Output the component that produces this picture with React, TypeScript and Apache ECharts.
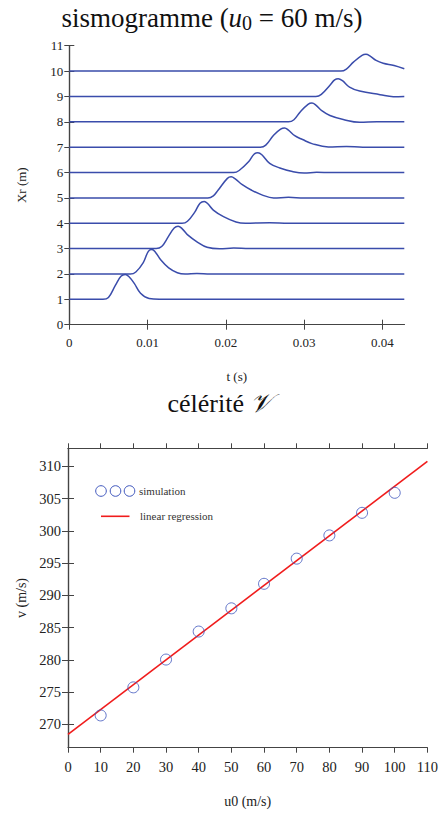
import React, { useEffect, useRef } from "react";
import * as echarts from "echarts";

// ---------- data: seismogram traces (time s, position m) ----------
const trace1 = [[0, 1], [0.0043, 1.0], [0.005, 1.07], [0.0059, 1.56], [0.0066, 1.91], [0.00715, 1.98], [0.0076, 1.9], [0.0083, 1.63], [0.0091, 1.24], [0.0102, 1.03], [0.0115, 1.0], [0.0428, 1.0]];
const trace2 = [[0, 2], [0.0078, 2.0], [0.0085, 2.08], [0.00945, 2.45], [0.0101, 2.89], [0.01055, 2.96], [0.0110, 2.86], [0.0117, 2.55], [0.0127, 2.24], [0.0138, 2.05], [0.0148, 2.0], [0.0163, 2.02], [0.018, 2.0], [0.0428, 2.0]];
const trace3 = [[0, 3], [0.0111, 3.0], [0.0118, 3.08], [0.01265, 3.47], [0.0134, 3.81], [0.0139, 3.88], [0.0144, 3.79], [0.0152, 3.52], [0.0164, 3.25], [0.0176, 3.05], [0.0192, 2.99], [0.021, 3.02], [0.023, 3.0], [0.0428, 3.0]];
const trace4 = [[0, 4], [0.0144, 4.0], [0.0151, 4.08], [0.01605, 4.45], [0.0167, 4.79], [0.01724, 4.86], [0.0177, 4.77], [0.0184, 4.52], [0.0197, 4.26], [0.0213, 4.05], [0.0225, 4.0], [0.0256, 4.02], [0.028, 4.0], [0.0428, 4.0]];
const trace5 = [[0, 5], [0.0177, 5.0], [0.0184, 5.08], [0.019, 5.3], [0.0202, 5.77], [0.02068, 5.83], [0.0212, 5.75], [0.0221, 5.52], [0.0233, 5.3], [0.0246, 5.12], [0.0261, 5.0], [0.028, 5.02], [0.03, 5.0], [0.0428, 5.0]];
const trace6 = [[0, 6], [0.021, 6.0], [0.0217, 6.08], [0.0229, 6.42], [0.0236, 6.72], [0.0241, 6.78], [0.0246, 6.7], [0.0256, 6.36], [0.0269, 6.18], [0.0285, 6.04], [0.03, 5.98], [0.0316, 6.01], [0.0335, 6.0], [0.0428, 6.0]];
const trace7 = [[0, 7], [0.0244, 7.0], [0.0251, 7.08], [0.0261, 7.47], [0.027, 7.71], [0.0275, 7.76], [0.028, 7.67], [0.0288, 7.45], [0.0298, 7.3], [0.031, 7.14], [0.0331, 7.01], [0.0354, 7.03], [0.0375, 7.0], [0.0428, 7.0]];
const trace8 = [[0, 8], [0.028, 8.0], [0.0287, 8.08], [0.0295, 8.39], [0.0305, 8.69], [0.031, 8.74], [0.0315, 8.66], [0.0323, 8.43], [0.0333, 8.25], [0.035, 8.09], [0.0371, 7.98], [0.0393, 8.0], [0.0428, 8.0]];
const trace9 = [[0, 9], [0.0315, 9.0], [0.0322, 9.08], [0.0333, 9.44], [0.0339, 9.65], [0.03436, 9.7], [0.0349, 9.62], [0.0358, 9.37], [0.0371, 9.21], [0.0397, 9.07], [0.0414, 8.99], [0.0428, 9.0]];
const trace10 = [[0, 10], [0.0347, 10.0], [0.0354, 10.08], [0.0363, 10.35], [0.0374, 10.62], [0.0379, 10.66], [0.0384, 10.6], [0.0392, 10.42], [0.0401, 10.31], [0.0415, 10.22], [0.0428, 10.09]];
const traces = [trace1, trace2, trace3, trace4, trace5, trace6, trace7, trace8, trace9, trace10];

const timeTicks = [0, 0.01, 0.02, 0.03, 0.04];

// ---------- data: celerity ----------
const u0Values = [10, 20, 30, 40, 50, 60, 70, 80, 90, 100];
const celerity = [271.4, 275.75, 280.06, 284.4, 288.0, 291.8, 295.7, 299.3, 302.8, 305.9];
const regressionLine = [[0, 268.46], [110, 310.77]];
const celerityTicks = [270, 275, 280, 285, 290, 295, 300, 305, 310];

const FONT = "'Liberation Serif', 'Times New Roman', serif";
const AXIS_COLOR = "#444";
const LABEL_COLOR = "#222";
const TRACE_COLOR = "#3a4cab";
const CIRCLE_COLOR = "#3d55bd";
const RED = "#f01c1c";

export default function App() {
  const ref = useRef<HTMLDivElement>(null);
  useEffect(() => {
    if (!ref.current) return;
    const chart = echarts.init(ref.current, undefined, { renderer: "svg" });

    const axisLine = { show: true, lineStyle: { color: AXIS_COLOR, width: 1.2 } };
    const tick = (len: number, extra: any = {}) => ({ show: true, inside: false, length: len, lineStyle: { color: AXIS_COLOR, width: 1 }, ...extra });

    const option: any = {
      animation: false,
      backgroundColor: "#fff",
      textStyle: { fontFamily: FONT },
      grid: [
        { left: 69.3, top: 45.7, width: 335, height: 279, containLabel: false },
        { left: 68, top: 448.3, width: 360, height: 299.4, containLabel: false },
      ],
      xAxis: [
        {
          gridIndex: 0, type: "value", position: "bottom", min: 0, max: 0.0428,
          axisLine, axisTick: tick(5, { customValues: timeTicks }), splitLine: { show: false },
          axisLabel: { customValues: timeTicks, color: LABEL_COLOR, fontSize: 13, fontFamily: FONT, margin: 11, formatter: (v: number) => String(+v.toFixed(3)) },
          name: "t (s)", nameLocation: "middle", nameGap: 45,
          nameTextStyle: { color: LABEL_COLOR, fontSize: 13, fontFamily: FONT },
        },
        {
          gridIndex: 0, type: "value", position: "top", min: 0, max: 0.0428,
          axisLine, axisTick: tick(5, { customValues: timeTicks }), axisLabel: { show: false }, splitLine: { show: false },
        },
        {
          gridIndex: 1, type: "value", position: "bottom", min: 0, max: 110, interval: 10,
          axisLine, axisTick: tick(5), splitLine: { show: false },
          axisLabel: { color: LABEL_COLOR, fontSize: 14.5, fontFamily: FONT, margin: 12, showMaxLabel: true },
          name: "u0 (m/s)", nameLocation: "middle", nameGap: 47,
          nameTextStyle: { color: LABEL_COLOR, fontSize: 14, fontFamily: FONT },
        },
        {
          gridIndex: 1, type: "value", position: "top", min: 0, max: 110, interval: 10,
          axisLine, axisTick: tick(5), axisLabel: { show: false }, splitLine: { show: false },
        },
      ],
      yAxis: [
        {
          gridIndex: 0, type: "value", position: "left", min: 0, max: 11, interval: 1,
          axisLine, axisTick: tick(5), splitLine: { show: false },
          axisLabel: { color: LABEL_COLOR, fontSize: 13, fontFamily: FONT, margin: 6 },
          name: "Xr (m)", nameLocation: "middle", nameGap: 41,
          nameTextStyle: { color: LABEL_COLOR, fontSize: 13, fontFamily: FONT },
        },
        {
          gridIndex: 0, type: "value", position: "right", min: 0, max: 11, interval: 1,
          axisLine, axisTick: tick(5), axisLabel: { show: false }, splitLine: { show: false },
        },
        {
          gridIndex: 1, type: "value", position: "left", min: 266.4, max: 312.8,
          axisLine, axisTick: tick(6, { customValues: celerityTicks }), splitLine: { show: false },
          axisLabel: { customValues: celerityTicks, color: LABEL_COLOR, fontSize: 14.5, fontFamily: FONT, margin: 7 },
          name: "v (m/s)", nameLocation: "middle", nameGap: 40,
          nameTextStyle: { color: LABEL_COLOR, fontSize: 14, fontFamily: FONT },
        },
        {
          gridIndex: 1, type: "value", position: "right", min: 266.4, max: 312.8,
          axisLine, axisTick: tick(6, { customValues: celerityTicks }), axisLabel: { show: false }, splitLine: { show: false },
        },
      ],
      series: [
        ...traces.map((tr, i) => ({
          name: "trace" + (i + 1),
          type: "line",
          xAxisIndex: 0, yAxisIndex: 0,
          data: tr,
          smooth: 0.4,
          showSymbol: false,
          lineStyle: { color: TRACE_COLOR, width: 1.5 },
          z: 3,
        })),
        {
          name: "linear regression",
          type: "line",
          xAxisIndex: 2, yAxisIndex: 2,
          data: regressionLine,
          showSymbol: false,
          lineStyle: { color: RED, width: 1.6 },
          z: 3,
        },
        {
          name: "simulation",
          type: "scatter",
          xAxisIndex: 2, yAxisIndex: 2,
          data: u0Values.map((u, i) => [u, celerity[i]]),
          symbol: "circle",
          symbolSize: 11,
          itemStyle: { color: "rgba(0,0,0,0)", borderColor: CIRCLE_COLOR, borderWidth: 1 },
          z: 4,
        },
      ],
      graphic: [
        {
          type: "text", x: 212, y: 18,
          style: {
            text: "{a|sismogramme (}{i|u}{s|0}{a| = 60 m/s)}",
            align: "center", verticalAlign: "middle",
            rich: {
              a: { fontFamily: FONT, fontSize: 27, fill: "#111", lineHeight: 30 },
              i: { fontFamily: FONT, fontStyle: "italic", fontSize: 27, fill: "#111", lineHeight: 30 },
              s: { fontFamily: FONT, fontSize: 20, fill: "#111", lineHeight: 20, verticalAlign: "bottom" },
            },
          },
        },
        {
          type: "text", x: 220, y: 403,
          style: {
            text: "{a|célérité }{v|𝒱}",
            align: "center", verticalAlign: "middle",
            rich: {
              a: { fontFamily: FONT, fontSize: 26, fill: "#111", lineHeight: 30 },
              v: { fontFamily: FONT, fontStyle: "italic", fontSize: 26, fill: "#111", lineHeight: 30 },
            },
          },
        },
        // legend
        { type: "circle", shape: { cx: 101, cy: 491, r: 5.3 }, style: { fill: "none", stroke: CIRCLE_COLOR, lineWidth: 1 } },
        { type: "circle", shape: { cx: 115.5, cy: 491, r: 5.3 }, style: { fill: "none", stroke: CIRCLE_COLOR, lineWidth: 1 } },
        { type: "circle", shape: { cx: 129.5, cy: 491, r: 5.3 }, style: { fill: "none", stroke: CIRCLE_COLOR, lineWidth: 1 } },
        { type: "text", x: 139, y: 491, style: { text: "simulation", fontFamily: FONT, fontSize: 11, fill: "#333", verticalAlign: "middle" } },
        { type: "line", shape: { x1: 101, y1: 516.3, x2: 129.5, y2: 516.3 }, style: { stroke: RED, lineWidth: 1.6 } },
        { type: "text", x: 140, y: 516, style: { text: "linear regression", fontFamily: FONT, fontSize: 11, fill: "#333", verticalAlign: "middle" } },
      ],
    };
    chart.setOption(option);
    return () => chart.dispose();
  }, []);
  return (
    <div
      ref={ref}
      style={{ position: "fixed", left: 0, top: 0, width: 441, height: 814, background: "#fff" }}
    />
  );
}
